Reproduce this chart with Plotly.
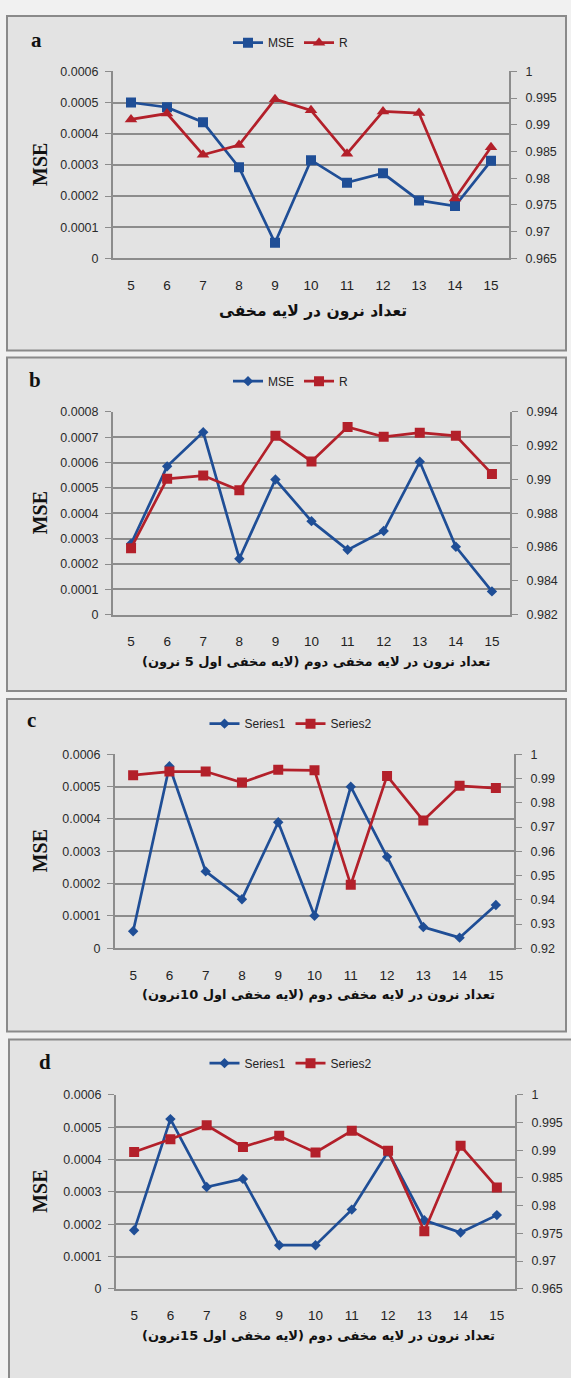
import plotly.graph_objects as go

W, H = 571, 1378

# ---------------- data ----------------
neurons = ["5", "6", "7", "8", "9", "10", "11", "12", "13", "14", "15"]

mse_a = [0.000500, 0.000485, 0.000437, 0.000292, 0.000050, 0.000315, 0.000243, 0.000273, 0.000186, 0.000168, 0.000313]
r_a = [0.9910, 0.9921, 0.9844, 0.9862, 0.9948, 0.9927, 0.9846, 0.9925, 0.9922, 0.9762, 0.9858]

mse_b = [0.000280, 0.000585, 0.000720, 0.000221, 0.000533, 0.000369, 0.000256, 0.000330, 0.000603, 0.000268, 0.000092]
r_b = [0.98594, 0.99004, 0.99023, 0.98936, 0.99258, 0.99107, 0.99310, 0.99252, 0.99277, 0.99258, 0.99033]

s1_c = [0.000053, 0.000563, 0.000238, 0.000152, 0.000390, 0.000101, 0.000500, 0.000283, 0.000066, 0.000033, 0.000134]
s2_c = [0.9914, 0.9929, 0.9929, 0.9884, 0.9936, 0.9934, 0.9462, 0.9911, 0.9727, 0.9870, 0.9861]

s1_d = [0.000181, 0.000525, 0.000315, 0.000340, 0.000135, 0.000135, 0.000245, 0.000424, 0.000212, 0.000174, 0.000228]
s2_d = [0.9897, 0.9920, 0.9945, 0.9906, 0.9926, 0.9896, 0.9935, 0.9899, 0.9754, 0.9908, 0.9833]

left_vals_6 = [0, 0.0001, 0.0002, 0.0003, 0.0004, 0.0005, 0.0006]
left_text_6 = ["0", "0.0001", "0.0002", "0.0003", "0.0004", "0.0005", "0.0006"]
left_vals_8 = [0, 0.0001, 0.0002, 0.0003, 0.0004, 0.0005, 0.0006, 0.0007, 0.0008]
left_text_8 = ["0", "0.0001", "0.0002", "0.0003", "0.0004", "0.0005", "0.0006", "0.0007", "0.0008"]

right_vals_a = [0.965, 0.97, 0.975, 0.98, 0.985, 0.99, 0.995, 1.0]
right_text_a = ["0.965", "0.97", "0.975", "0.98", "0.985", "0.99", "0.995", "1"]
right_vals_b = [0.982, 0.984, 0.986, 0.988, 0.99, 0.992, 0.994]
right_text_b = ["0.982", "0.984", "0.986", "0.988", "0.99", "0.992", "0.994"]
right_vals_c = [0.92, 0.93, 0.94, 0.95, 0.96, 0.97, 0.98, 0.99, 1.0]
right_text_c = ["0.92", "0.93", "0.94", "0.95", "0.96", "0.97", "0.98", "0.99", "1"]

letters = ["a", "b", "c", "d"]
legend_names = [("MSE", "R"), ("MSE", "R"), ("Series1", "Series2"), ("Series1", "Series2")]
xtitles = [
    "تعداد نرون در لایه مخفی",
    "تعداد نرون در لایه مخفی دوم (لایه مخفی اول 5 نرون)",
    "تعداد نرون در لایه مخفی دوم (لایه مخفی اول 10نرون)",
    "تعداد نرون در لایه مخفی دوم (لایه مخفی اول 15نرون)",
]
ytitle = "MSE"

# ---------------- styling / geometry ----------------
BLUE = "#1f4e96"
RED = "#b3202a"
GRID = "#8c8c8c"
PANEL_BG = "#e3e3e3"
PAGE_BG = "#f1f1f1"
BORDER = "#8a8a8a"
TICK_FONT = dict(family="Liberation Sans", size=12.5, color="#2b2b2b")


def X(px):
    return px / W


def Y(py):
    return 1 - py / H


panels = [
    dict(box=(7, 9, 566, 347), plot=(113, 65, 509, 254), letter=(36, 33), legend=(291, 36),
         mse=mse_a, r=r_a, msym="square", rsym="triangle-up", msize=10, rsize=11,
         lvals=left_vals_6, ltext=left_text_6, lrange=(0, 0.0006),
         rvals=right_vals_a, rtext=right_text_a, rrange=(0.965, 1.0), xt=(313, 307), xts=15.5),
    dict(box=(7, 354, 566, 691), plot=(113, 409, 510, 614), letter=(35, 377), legend=(291, 378),
         mse=mse_b, r=r_b, msym="diamond", rsym="square", msize=8, rsize=10,
         lvals=left_vals_8, ltext=left_text_8, lrange=(0, 0.0008),
         rvals=right_vals_b, rtext=right_text_b, rrange=(0.982, 0.994), xt=(316, 662), xts=13),
    dict(box=(7, 699, 566, 1035), plot=(115, 755, 514, 951), letter=(31, 720), legend=(291, 724),
         mse=s1_c, r=s2_c, msym="diamond", rsym="square", msize=8, rsize=10,
         lvals=left_vals_6, ltext=left_text_6, lrange=(0, 0.0006),
         rvals=right_vals_c, rtext=right_text_c, rrange=(0.92, 1.0), xt=(318, 998), xts=13),
    dict(box=(9, 1043, 620, 1420), plot=(116, 1099, 515, 1295), letter=(45, 1066), legend=(291, 1067),
         mse=s1_d, r=s2_d, msym="diamond", rsym="square", msize=8, rsize=10,
         lvals=left_vals_6, ltext=left_text_6, lrange=(0, 0.0006),
         rvals=right_vals_a, rtext=right_text_a, rrange=(0.965, 1.0), xt=(318, 1343), xts=13),
]

fig = go.Figure()
layout = dict(
    width=W, height=H, margin=dict(l=0, r=0, t=0, b=0),
    paper_bgcolor=PAGE_BG, plot_bgcolor=PANEL_BG, showlegend=True,
)
shapes = []
annotations = []

for k, p in enumerate(panels):
    xid = "x" if k == 0 else f"x{k+1}"
    ylid = "y" if k == 0 else f"y{2*k+1}"
    yrid = f"y{2*k+2}"
    xkey = "xaxis" if k == 0 else f"xaxis{k+1}"
    ylkey = "yaxis" if k == 0 else f"yaxis{2*k+1}"
    yrkey = f"yaxis{2*k+2}"
    lgkey = "legend" if k == 0 else f"legend{k+1}"

    x0, y0, x1, y1 = p["plot"]
    bx0, by0, bx1, by1 = p["box"]
    shapes.append(dict(type="rect", xref="paper", yref="paper", layer="below",
                       x0=X(bx0), x1=X(bx1), y0=Y(by1), y1=Y(by0),
                       fillcolor=PANEL_BG, line=dict(color=BORDER, width=2)))

    mname, rname = legend_names[k]
    fig.add_trace(go.Scatter(
        x=neurons, y=p["mse"], name=mname, mode="lines+markers",
        line=dict(color=BLUE, width=2.7),
        marker=dict(symbol=p["msym"], size=p["msize"], color=BLUE),
        xaxis=xid, yaxis=ylid, legend=lgkey))
    fig.add_trace(go.Scatter(
        x=neurons, y=p["r"], name=rname, mode="lines+markers",
        line=dict(color=RED, width=2.7),
        marker=dict(symbol=p["rsym"], size=p["rsize"], color=RED),
        xaxis=xid, yaxis=yrid, legend=lgkey))

    layout[xkey] = dict(
        domain=[X(x0), X(x1)], anchor=ylid, type="category",
        range=[-0.5, 10.5], showgrid=False, showline=True, linecolor=GRID, linewidth=2,
        ticks="", ticklabelstandoff=13, tickfont=dict(family="Liberation Sans", size=13.5, color="#222"),
        fixedrange=True,
    )
    layout[ylkey] = dict(
        domain=[Y(y1), Y(y0)], anchor=xid, range=list(p["lrange"]),
        tickvals=p["lvals"], ticktext=p["ltext"], showgrid=True, gridcolor=GRID, gridwidth=2,
        zeroline=False, showline=True, linecolor=GRID, linewidth=2,
        ticks="outside", ticklen=6, tickcolor=GRID, tickwidth=1, ticklabelstandoff=4,
        tickfont=TICK_FONT,
    )
    layout[yrkey] = dict(
        overlaying=ylid, side="right", anchor=xid, range=list(p["rrange"]),
        tickvals=p["rvals"], ticktext=p["rtext"], showgrid=False, zeroline=False,
        showline=True, linecolor=GRID, linewidth=2,
        ticks="outside", ticklen=6, tickcolor=GRID, tickwidth=1, ticklabelstandoff=6,
        tickfont=TICK_FONT,
    )
    lx, ly = p["legend"]
    layout[lgkey] = dict(
        orientation="h", x=X(lx), y=Y(ly), xanchor="center", yanchor="middle",
        bgcolor="rgba(0,0,0,0)", font=dict(family="Liberation Sans", size=12, color="#222"),
        itemwidth=30, tracegroupgap=0,
    )

    # panel letter
    lx_, ly_ = p["letter"]
    annotations.append(dict(
        text=f"<b>{letters[k]}</b>", x=X(lx_), y=Y(ly_), xref="paper", yref="paper",
        showarrow=False, xanchor="center", yanchor="middle",
        font=dict(family="Liberation Serif", size=21, color="#111")))
    # y title
    annotations.append(dict(
        text=f"<b>{ytitle}</b>", x=X(40), y=Y((y0 + y1) / 2), xref="paper", yref="paper",
        showarrow=False, textangle=-90, xanchor="center", yanchor="middle",
        font=dict(family="Liberation Serif", size=20, color="#111")))
    # x title (RTL)
    tx, ty = p["xt"]
    annotations.append(dict(
        text="<b>\u200f" + xtitles[k] + "\u200f</b>", x=X(tx), y=Y(ty), xref="paper", yref="paper",
        showarrow=False, xanchor="center", yanchor="middle",
        font=dict(family="DejaVu Sans", size=p["xts"], color="#111")))

layout["shapes"] = shapes
layout["annotations"] = annotations
fig.update_layout(**layout)
fig.write_html(
    "out.html",
    config={"displayModeBar": False},
    post_script="document.body.style.margin='0';document.body.style.overflow='hidden';",
)
